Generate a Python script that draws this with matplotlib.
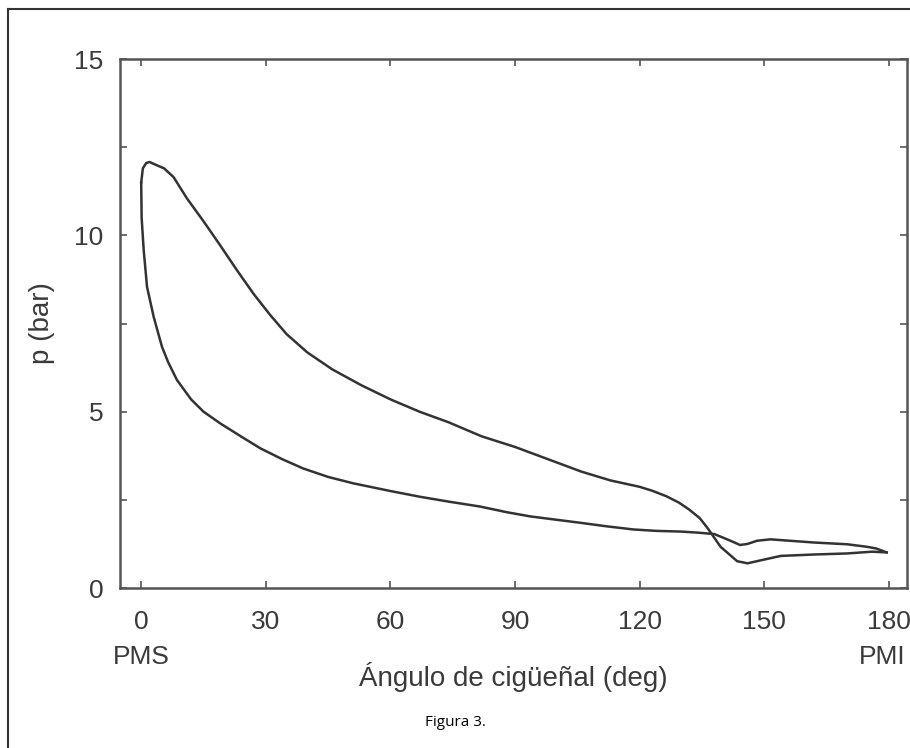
import matplotlib
matplotlib.use("Agg")
import matplotlib.pyplot as plt
from matplotlib.lines import Line2D
from matplotlib.ticker import MultipleLocator, NullFormatter

# expansion branch: crank angle (deg) and pressure (bar), 0 -> 180
upper_deg = [0, 0.4, 1.2, 2.0, 3.5, 5.5, 7.8, 11, 15, 19, 23, 27, 31, 35, 40,
             46, 53, 60, 67, 74, 82, 90, 98, 106, 113, 120, 123, 126.5, 129.5,
             132, 134.5, 136.5, 139.5, 143.5, 146, 149, 154, 162, 170, 176, 179.5]
upper_p = [11.5, 11.9, 12.05, 12.08, 12.0, 11.9, 11.65, 11.05, 10.4, 9.72, 9.02,
           8.35, 7.75, 7.2, 6.68, 6.2, 5.75, 5.35, 5.0, 4.7, 4.3, 4.0, 3.65, 3.3,
           3.05, 2.87, 2.76, 2.6, 2.42, 2.22, 1.98, 1.68, 1.17, 0.76, 0.70,
           0.78, 0.91, 0.95, 0.98, 1.03, 1.01]

# return branch: 180 -> 0
lower_deg = [179.5, 177, 174.7, 170, 162, 155, 151.5, 148.3, 146, 144.2, 141.5,
             138, 134, 130, 124, 118.5, 112, 105.7, 99, 93.7, 88, 81.6, 74, 67,
             60, 51, 45, 39, 34, 28.7, 24, 19, 15, 12, 8.6, 6.5, 5, 3, 1.4, 0.6,
             0.1, 0]
lower_p = [1.01, 1.12, 1.17, 1.24, 1.29, 1.35, 1.38, 1.34, 1.25, 1.22, 1.36,
           1.53, 1.57, 1.60, 1.62, 1.66, 1.75, 1.85, 1.95, 2.03, 2.15, 2.31,
           2.45, 2.59, 2.75, 2.97, 3.15, 3.39, 3.65, 3.96, 4.3, 4.67, 5.0, 5.35,
           5.9, 6.4, 6.84, 7.69, 8.54, 9.58, 10.5, 11.5]

x_ticks = [0, 30, 60, 90, 120, 150, 180]
x_labels = ["0", "30", "60", "90", "120", "150", "180"]
end_labels = ["PMS", "PMI"]

plt.rcParams['font.family'] = ['Liberation Sans', 'DejaVu Sans']

fig = plt.figure(figsize=(9.1, 7.48), dpi=100)
ax = fig.add_axes([0.1319, 0.2139, 0.8648, 0.7072])

line_col = '#333333'
ax.plot(upper_deg, upper_p, color=line_col, lw=1.8)
ax.plot(lower_deg, lower_p, color=line_col, lw=1.8)

ax.set_xlim(-5.1, 184.4)
ax.set_ylim(0, 15)

ax.set_xticks(x_ticks)
ax.set_xticklabels(x_labels)
ax.yaxis.set_major_locator(MultipleLocator(5))
ax.yaxis.set_minor_locator(MultipleLocator(2.5))
ax.yaxis.set_minor_formatter(NullFormatter())

txt_col = '#3a3a3a'
ax.tick_params(which='both', direction='in', top=True, right=True,
               length=5, width=1.2, color='#555555',
               labelsize=19, labelcolor=txt_col)
ax.tick_params(axis='x', pad=16)
ax.tick_params(axis='y', pad=12)

for s in ax.spines.values():
    s.set_color('#555555')
    s.set_linewidth(1.8)

# PMS / PMI under the end ticks
end_y = -69 / 528
ax.text(x_ticks[0], end_y, end_labels[0], transform=ax.get_xaxis_transform(),
        ha='center', va='center', fontsize=19, color=txt_col)
ax.text(x_ticks[-1] - 1.6, end_y, end_labels[1],
        transform=ax.get_xaxis_transform(),
        ha='center', va='center', fontsize=19, color=txt_col)

ax.set_xlabel('Ángulo de cigüeñal (deg)', fontsize=20, color=txt_col)
ax.xaxis.set_label_coords(0.5, -89 / 528)
ax.xaxis.label.set_va('center')
ax.set_ylabel('p (bar)', fontsize=20, color=txt_col, labelpad=14)

# outer frame of the figure panel
fig.add_artist(Line2D([8 / 910, 1], [1 - 9 / 748, 1 - 9 / 748],
                      transform=fig.transFigure, color='#333333', lw=1.5))
fig.add_artist(Line2D([8 / 910, 8 / 910], [0, 1 - 9 / 748],
                      transform=fig.transFigure, color='#333333', lw=1.5))

fig.text(455 / 910, 1 - 722 / 748, 'Figura 3.', ha='center', va='center',
         fontsize=11, family=['Open Sans', 'DejaVu Sans'], color='black')

fig.savefig('out.png', dpi=100)
